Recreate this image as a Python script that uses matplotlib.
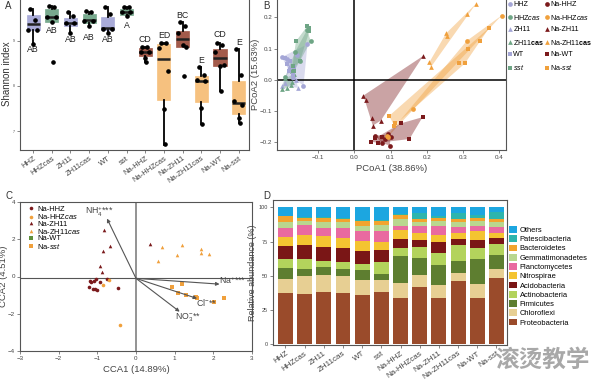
import numpy as np
import matplotlib
matplotlib.use("Agg")
import matplotlib.pyplot as plt

plt.rcParams['font.family'] = ['Liberation Sans', 'DejaVu Sans']
plt.rcParams['mathtext.fontset'] = 'custom'
plt.rcParams['mathtext.rm'] = 'Liberation Sans'
plt.rcParams['mathtext.it'] = 'Liberation Sans:italic'
plt.rcParams['mathtext.bf'] = 'Liberation Sans:bold'

W, H = 594, 381

# ---------------- data ----------------
groups = ['HHZ', 'HHZcas', 'ZH11', 'ZH11cas', 'WT', 'sst',
          'Na-HHZ', 'Na-HHZcas', 'Na-ZH11', 'Na-ZH11cas', 'Na-WT', 'Na-sst']

# panel A: shannon boxplot stats (q1, med, q3, whislo, whishi)
shan_q1 = [9.23, 9.42, 9.32, 9.39, 9.23, 9.58, 8.67, 7.69, 8.86, 7.65, 8.44, 7.37]
shan_med = [9.37, 9.53, 9.39, 9.47, 9.28, 9.64, 8.76, 8.59, 9.04, 8.11, 8.62, 7.63]
shan_q3 = [9.58, 9.70, 9.50, 9.59, 9.53, 9.71, 8.85, 8.93, 9.22, 8.22, 8.82, 8.10]
shan_lo = [8.93, 9.41, 9.17, 9.32, 9.17, 9.54, 8.54, 6.70, 8.86, 7.15, 7.89, 7.17]
shan_hi = [9.71, 9.78, 9.64, 9.65, 9.75, 9.76, 8.87, 8.96, 9.42, 8.41, 8.95, 8.82]
shan_pts = [
    [9.71, 9.47, 9.24, 9.24, 8.93],
    [9.77, 9.76, 9.53, 9.53, 9.41, 8.52],
    [9.64, 9.56, 9.39, 9.39, 9.17],
    [9.66, 9.63, 9.45, 9.45, 9.32],
    [9.75, 9.60, 9.26, 9.26, 9.17],
    [9.76, 9.75, 9.64, 9.64, 9.54],
    [8.87, 8.87, 8.76, 8.76, 8.61, 8.54],
    [8.96, 8.96, 8.85, 8.33, 7.48, 6.72],
    [9.42, 9.32, 9.18, 8.87, 8.91, 8.21],
    [8.41, 8.24, 8.13, 8.11, 7.52, 7.15],
    [8.95, 8.91, 8.76, 8.47, 8.44, 7.89],
    [8.82, 8.24, 7.67, 7.58, 7.30, 7.17],
]
jitter = [-0.15, 0.12, -0.25, 0.2, 0.0, 0.05]
letters = ['AB', 'AB', 'AB', 'AB', 'AB', 'A', 'CD', 'ED', 'BC', 'E', 'CD', 'E']
letter_y = [8.80, 9.22, 9.04, 9.07, 9.04, 9.34, 9.02, 9.12, 9.56, 8.56, 9.13, 8.96]

# panel B: PCoA coordinates
pcoa = {
    'HHZ': [(-0.200, 0.073), (-0.185, 0.066), (-0.129, 0.114), (-0.140, -0.019),
            (-0.157, 0.080), (-0.170, 0.010)],
    'HHZcas': [(-0.120, 0.124), (-0.130, 0.160), (-0.150, 0.060), (-0.175, 0.030),
               (-0.163, 0.090), (-0.190, 0.010)],
    'ZH11': [(-0.200, -0.020), (-0.170, 0.010), (-0.155, -0.025), (-0.180, 0.040),
             (-0.190, -0.010), (-0.160, 0.000)],
    'ZH11cas': [(-0.200, -0.030), (-0.190, 0.005), (-0.175, -0.015), (-0.185, -0.025),
                (-0.165, 0.020), (-0.172, -0.008)],
    'WT': [(-0.192, 0.070), (-0.176, 0.060), (-0.165, 0.040), (-0.180, 0.030),
           (-0.170, 0.015), (-0.186, 0.050)],
    'sst': [(-0.129, 0.173), (-0.124, 0.165), (-0.124, 0.155), (-0.161, 0.123),
            (-0.150, 0.060), (-0.165, 0.030), (-0.170, 0.045)],
    'Na-HHZ': [(0.075, -0.201), (0.098, -0.210), (0.094, -0.174), (0.085, -0.190),
               (0.100, -0.182), (0.058, -0.178)],
    'Na-HHZcas': [(0.406, 0.206), (0.310, 0.125), (0.163, -0.093), (0.091, -0.178),
                  (0.092, -0.182)],
    'Na-ZH11': [(0.025, -0.050), (0.032, -0.064), (0.048, -0.123), (0.051, -0.146),
                (0.073, -0.130), (0.190, 0.077)],
    'Na-ZH11cas': [(0.335, 0.243), (0.311, 0.211), (0.253, 0.149), (0.256, 0.139),
                   (0.207, 0.057), (0.211, 0.041)],
    'Na-WT': [(0.045, -0.197), (0.057, -0.187), (0.064, -0.201), (0.075, -0.182),
              (0.128, -0.139), (0.152, -0.189), (0.188, -0.119)],
    'Na-sst': [(0.372, 0.167), (0.346, 0.123), (0.312, 0.098), (0.288, 0.053),
               (0.305, 0.053), (0.096, -0.115), (0.112, -0.139), (0.110, -0.146)],
}

# panel C: CCA site scores and env arrows
cca = {
    'Na-HHZ': [(-1.20, -0.23), (-1.09, -0.23), (-1.22, -0.55), (-1.12, -0.66),
               (-1.01, -0.70), (-1.03, -0.11), (-0.94, -0.30), (-0.75, -0.14),
               (-0.47, -0.61), (-1.16, -0.29), (-1.07, -0.68)],
    'Na-HHZcas': [(-0.69, -0.20), (-0.86, -0.45), (-0.41, -2.61)],
    'Na-ZH11': [(-0.82, 2.52), (-0.67, 1.64), (-0.86, 1.36), (-0.93, 0.57),
                (-0.88, 0.25), (0.35, 1.77)],
    'Na-ZH11cas': [(0.57, 0.82), (0.67, 1.59), (1.06, 1.14), (1.20, 1.71),
                   (1.67, 1.45), (1.69, 1.27), (1.90, 1.23)],
    'Na-WT': [],
    'Na-sst': [(0.94, -0.59), (1.20, -0.38), (1.09, -0.88), (1.30, -1.00),
               (1.54, -1.09), (1.58, -1.13), (2.01, -1.38), (2.27, -1.13)],
}
env_names = [r'NH$_4^{+}$***', r'Na$^{+}$***', r'Cl$^{-}$**', r'NO$_3^{-}$**']
env_x = [-0.75, 2.16, 1.58, 1.13]
env_y = [3.11, -0.41, -1.18, -1.89]

# panel D: relative abundance (%) per phylum, bottom to top
phyla = ['Proteobacteria', 'Chloroflexi', 'Firmicutes', 'Actinobacteria', 'Acidobacteria',
         'Nitrospirae', 'Planctomycetes', 'Gemmatimonadetes', 'Bacteroidetes',
         'Patescibacteria', 'Others']
abund = {
    'Proteobacteria':   [37.3, 36.8, 38.0, 37.3, 36.0, 38.0, 33.8, 41.7, 33.8, 45.8, 33.8, 48.5],
    'Chloroflexi':      [10.5, 12.7, 12.2, 12.2, 10.6, 9.1, 10.8, 9.0, 9.1, 6.2, 10.3, 6.6],
    'Firmicutes':       [8.1, 5.6, 6.2, 5.6, 7.3, 3.9, 19.6, 12.3, 14.7, 8.5, 18.4, 9.9],
    'Actinobacteria':   [6.6, 7.4, 4.4, 4.5, 4.9, 8.6, 6.4, 8.1, 9.1, 11.8, 7.4, 8.5],
    'Acidobacteria':    [9.3, 10.3, 10.3, 10.7, 9.1, 9.0, 5.9, 4.9, 7.6, 4.9, 6.1, 4.2],
    'Nitrospirae':      [6.6, 6.9, 8.1, 7.6, 7.3, 6.2, 6.8, 5.4, 5.8, 4.2, 6.6, 3.9],
    'Planctomycetes':   [6.9, 7.3, 6.1, 6.7, 7.4, 7.8, 3.2, 4.9, 6.2, 4.4, 3.9, 4.2],
    'Gemmatimonadetes': [3.7, 2.9, 3.7, 4.4, 3.7, 4.9, 4.7, 3.2, 3.9, 3.7, 3.5, 3.7],
    'Bacteroidetes':    [4.6, 2.7, 3.6, 2.9, 3.9, 2.7, 3.2, 2.4, 2.4, 1.7, 2.6, 1.7],
    'Patescibacteria':  [0.5, 0.5, 0.5, 0.7, 0.5, 0.5, 0.7, 4.2, 1.0, 4.9, 1.8, 5.6],
    'Others':           [5.9, 6.9, 6.9, 7.4, 9.3, 9.3, 4.9, 3.9, 6.4, 3.9, 5.6, 3.2],
}

# ---------------- styles ----------------
box_col = ['#a9abd8', '#78aa8e', '#a9abd8', '#78aa8e', '#a9abd8', '#78aa8e',
           '#a35b4b', '#f6c17f', '#a35b4b', '#f6c17f', '#a35b4b', '#f6c17f']
grp_col = {'HHZ': '#a4a6d6', 'HHZcas': '#6ea585', 'ZH11': '#a4a6d6', 'ZH11cas': '#6ea585',
           'WT': '#a4a6d6', 'sst': '#6ea585', 'Na-HHZ': '#7b1a1c', 'Na-HHZcas': '#f0a03c',
           'Na-ZH11': '#7b1a1c', 'Na-ZH11cas': '#f0a03c', 'Na-WT': '#7b1a1c', 'Na-sst': '#f0a03c'}
grp_mark = {'HHZ': 'o', 'HHZcas': 'o', 'ZH11': '^', 'ZH11cas': '^', 'WT': 's', 'sst': 's',
            'Na-HHZ': 'o', 'Na-HHZcas': 'o', 'Na-ZH11': '^', 'Na-ZH11cas': '^',
            'Na-WT': 's', 'Na-sst': 's'}
grp_label = {'HHZ': 'HHZ', 'HHZcas': r'HHZ$\it{cas}$', 'ZH11': 'ZH11',
             'ZH11cas': r'ZH11$\bf{cas}$', 'WT': 'WT', 'sst': r'$\it{sst}$',
             'Na-HHZ': 'Na-HHZ', 'Na-HHZcas': r'Na-HHZ$\it{cas}$', 'Na-ZH11': 'Na-ZH11',
             'Na-ZH11cas': r'Na-ZH11$\bf{cas}$', 'Na-WT': 'Na-WT', 'Na-sst': r'Na-$\it{sst}$'}
cca_label = {'Na-HHZ': 'Na-HHZ', 'Na-HHZcas': r'Na-HHZ$\it{cas}$', 'Na-ZH11': 'Na-ZH11',
             'Na-ZH11cas': r'Na-ZH11$\it{cas}$', 'Na-WT': 'Na-WT', 'Na-sst': r'Na-$\it{sst}$'}
phy_col = ['#9a4b2b', '#e7cf93', '#5e7e30', '#b3d35c', '#7a1616', '#f4c431',
           '#e96aa0', '#b9d78f', '#f2a42e', '#2db5ad', '#1ca6e0']
frame = '#555555'


def px(l, t, r, b):
    return [l / W, 1 - b / H, (r - l) / W, (b - t) / H]


def hull(points):
    p = sorted(set(points))
    if len(p) < 3:
        return p

    def cross(o, a, b):
        return (a[0] - o[0]) * (b[1] - o[1]) - (a[1] - o[1]) * (b[0] - o[0])
    lower, upper = [], []
    for q in p:
        while len(lower) >= 2 and cross(lower[-2], lower[-1], q) <= 0:
            lower.pop()
        lower.append(q)
    for q in reversed(p):
        while len(upper) >= 2 and cross(upper[-2], upper[-1], q) <= 0:
            upper.pop()
        upper.append(q)
    return lower[:-1] + upper[:-1]


def style_frame(ax, lw=0.8):
    for s in ax.spines.values():
        s.set_color(frame)
        s.set_linewidth(lw)
    ax.tick_params(length=2, width=0.5, color=frame, labelcolor='#444444', pad=1.5)


fig = plt.figure(figsize=(W / 100, H / 100), dpi=100)

# ---------------- A ----------------
axA = fig.add_axes(px(20, -2, 249, 150))
xs = np.arange(1, len(groups) + 1)
stats = [dict(med=shan_med[i], q1=shan_q1[i], q3=shan_q3[i], whislo=shan_lo[i],
              whishi=shan_hi[i], fliers=[]) for i in range(len(groups))]
bp = axA.bxp(stats, positions=xs, widths=0.7, patch_artist=True, showcaps=False,
             whiskerprops=dict(color='black', lw=1.3),
             medianprops=dict(color='#222222', lw=1.8),
             boxprops=dict(lw=0.5))
for patch, c in zip(bp['boxes'], box_col):
    patch.set_facecolor(c)
    patch.set_edgecolor(c)
for i, vals in enumerate(shan_pts):
    jx = [xs[i] + jitter[k % len(jitter)] for k in range(len(vals))]
    axA.plot(jx, vals, 'o', color='black', ms=2.3, zorder=5)
    axA.text(xs[i], letter_y[i], letters[i], ha='center', va='center', fontsize=6.3,
             color='#222222')
axA.set_xlim(0.3, 12.55)
axA.set_ylim(6.58, 9.95)
axA.set_yticks([9, 8, 7])
axA.set_yticklabels(['9', '8', '7'], fontsize=2.5)
axA.set_xticks(xs)
axA.set_xticklabels(groups, rotation=35, ha='right', rotation_mode='anchor', fontsize=5.5)
axA.set_ylabel('Shannon index', fontsize=7, labelpad=1, color='#333333')
style_frame(axA)
fig.text(5 / W, 1 - 6 / H, 'A', fontsize=7, va='center', color='#333333')

# ---------------- B ----------------
axB = fig.add_axes(px(277, -2, 506, 150))
for g in groups:
    pts = pcoa[g]
    hp = hull(pts)
    axB.fill([q[0] for q in hp], [q[1] for q in hp], color=grp_col[g], alpha=0.4, lw=0)
for g in groups:
    pts = pcoa[g]
    axB.plot([q[0] for q in pts], [q[1] for q in pts], grp_mark[g], color=grp_col[g],
             ms=3.4, mew=0, label=grp_label[g], zorder=4)
axB.axhline(0, color='black', lw=1.1)
axB.axvline(0, color='black', lw=1.1)
axB.set_xlim(-0.213, 0.418)
axB.set_ylim(-0.224, 0.262)
axB.set_xticks([-0.1, 0.0, 0.1, 0.2, 0.3, 0.4])
axB.set_yticks([0.2, 0.1, 0.0, -0.1, -0.2])
axB.tick_params(labelsize=4.5)
axB.set_xlabel('PCoA1 (38.86%)', fontsize=6.8, labelpad=3, color='#444444')
axB.set_ylabel('PCoA2 (15.63%)', fontsize=6.8, labelpad=0, color='#444444')
style_frame(axB)
hB, lB = axB.get_legend_handles_labels()
fig.legend(hB, lB, loc='upper left', bbox_to_anchor=(508 / W, 1 - 1 / H), ncol=2,
           frameon=False, fontsize=5.1, handlelength=0.5, handletextpad=0.25,
           columnspacing=0.1, labelspacing=0.65, markerscale=1.0, borderaxespad=0,
           borderpad=0)
fig.text(263 / W, 1 - 6 / H, 'B', fontsize=7, va='center', color='#333333')

# ---------------- C ----------------
axC = fig.add_axes(px(20, 202, 252, 351))
axC.axvline(0, color='#8a8a8a', lw=1.3, zorder=1)
axC.axhline(-0.1, color='#555555', lw=0.8, zorder=1)
for g in ['Na-HHZ', 'Na-HHZcas', 'Na-ZH11', 'Na-ZH11cas', 'Na-WT', 'Na-sst']:
    pts = cca[g]
    c = '#5f8f3a' if g == 'Na-WT' else grp_col[g]
    axC.plot([q[0] for q in pts], [q[1] for q in pts], grp_mark[g], color=c,
             ms=2.6, mew=0, label=cca_label[g], zorder=3)
for name, ex, ey in zip(env_names, env_x, env_y):
    axC.annotate('', xy=(ex, ey), xytext=(0, -0.1),
                 arrowprops=dict(arrowstyle='-|>', color='#555555', lw=0.8,
                                 mutation_scale=5, shrinkA=0, shrinkB=0))
label_off = [(-0.2, 0.35), (0.35, 0.2), (0.25, -0.2), (0.2, -0.35)]
for name, ex, ey, off in zip(env_names, env_x, env_y, label_off):
    axC.text(ex + off[0], ey + off[1], name, fontsize=6.3, color='#444444',
             ha='center', va='center')
axC.set_xlim(-3, 3)
axC.set_ylim(-4, 4)
axC.set_xticks(range(-3, 4))
axC.set_yticks([-4, -2, 0, 2, 4])
axC.tick_params(labelsize=4.5)
axC.set_xlabel('CCA1 (14.89%)', fontsize=6.8, labelpad=3, color='#444444')
axC.set_ylabel('CCA2 (4.51%)', fontsize=6.8, labelpad=0, color='#444444')
style_frame(axC)
axC.legend(loc='upper left', bbox_to_anchor=(0.035, 0.975), frameon=False, fontsize=5.4,
           handlelength=0.7, handletextpad=0.5, labelspacing=-0.1, borderaxespad=0,
           borderpad=0, markerscale=1.0)
fig.text(5 / W, 1 - 196 / H, 'C', fontsize=7, va='center', color='#333333')

# ---------------- D ----------------
axD = fig.add_axes(px(273, 200, 507, 345))
bottom = np.zeros(len(groups))
for name, c in zip(phyla, phy_col):
    vals = np.array(abund[name])
    axD.bar(xs, vals, bottom=bottom, width=0.78, color=c, label=name, lw=0)
    bottom += vals
axD.set_xlim(0.35, 12.55)
axD.set_ylim(-1, 105.5)
axD.set_yticks([0, 25, 50, 75, 100])
axD.tick_params(axis='y', labelsize=4)
axD.set_xticks(xs)
axD.set_xticklabels(groups, rotation=35, ha='right', rotation_mode='anchor', fontsize=5.8)
axD.set_ylabel('Relative abundance (%)', fontsize=6.5, labelpad=1, color='#444444')
style_frame(axD)
hD, lD = axD.get_legend_handles_labels()
fig.legend(hD[::-1], lD[::-1], loc='upper left', bbox_to_anchor=(509 / W, 1 - 226 / H),
           frameon=False, fontsize=5.4, handlelength=1.1, handleheight=1.0,
           handletextpad=0.35, labelspacing=0.18, borderaxespad=0, borderpad=0)
fig.text(263 / W, 1 - 196 / H, 'D', fontsize=7, va='center', color='#333333')

# watermark
fig.text(590 / W, 1 - 360 / H, '滚烫教学', family=['Noto Sans CJK SC', 'DejaVu Sans'],
         fontsize=17, fontweight='bold', color='#a8a8a8', ha='right', va='center')

fig.savefig('out.png', dpi=100)
